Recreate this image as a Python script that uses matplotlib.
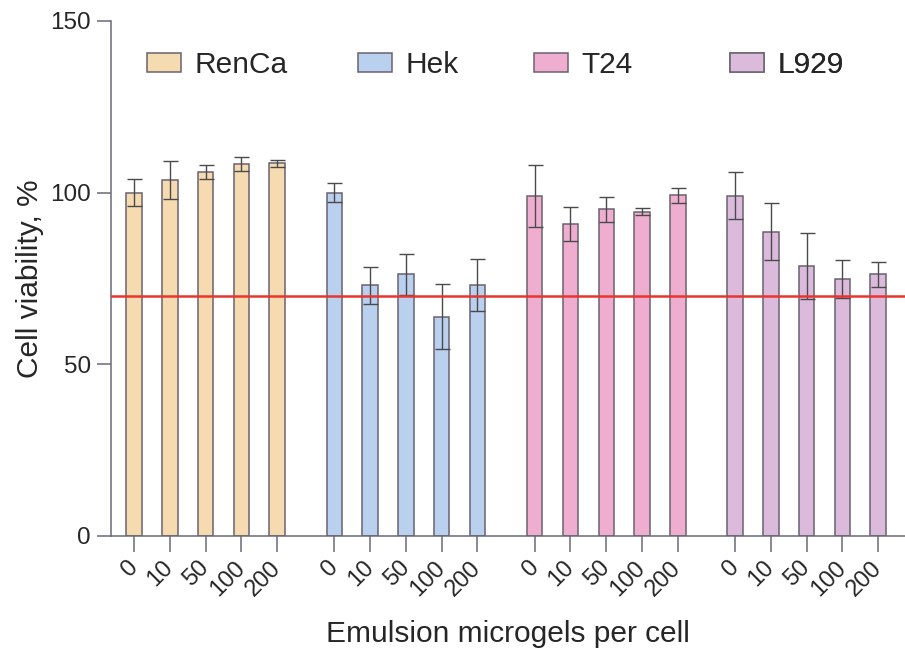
import numpy as np
import matplotlib
matplotlib.use("Agg")
import matplotlib.pyplot as plt
from matplotlib.patches import Patch

plt.rcParams['font.family'] = ['Liberation Sans', 'DejaVu Sans']

cell_lines = ["RenCa", "Hek", "T24", "L929"]
doses = ["0", "10", "50", "100", "200"]

# mean viability, % and sd for each dose
renca = [100.0, 103.6, 106.0, 108.4, 108.5]
renca_sd = [4.0, 5.6, 2.0, 2.1, 1.0]
hek = [100.0, 73.0, 76.2, 63.9, 73.0]
hek_sd = [2.8, 5.3, 5.9, 9.5, 7.6]
t24 = [99.0, 90.8, 95.1, 94.5, 99.2]
t24_sd = [9.0, 5.0, 3.7, 1.1, 2.1]
l929 = [99.1, 88.6, 78.6, 74.8, 76.2]
l929_sd = [6.8, 8.3, 9.6, 5.6, 3.7]

threshold = 70

colors = ["#f7dbb0", "#b9d0ee", "#efaed0", "#dbbadb"]
means = [renca, hek, t24, l929]
sds = [renca_sd, hek_sd, t24_sd, l929_sd]

fig = plt.figure(figsize=(9.05, 6.51), dpi=100)
ax = fig.add_axes([0.1232, 0.1767, 0.8768, 0.7911])

group_step = 5.6
xticks = []
xlabels = []
for g, (m, s, c) in enumerate(zip(means, sds, colors)):
    x = g * group_step + np.arange(len(doses))
    ax.bar(x, m, width=0.43, color=c, edgecolor="#6a6270", linewidth=1.1, zorder=2)
    ax.errorbar(x, m, yerr=s, fmt="none", ecolor="#4a4a4a", elinewidth=1.0,
                capsize=5.4, capthick=1.0, zorder=3)
    xticks.extend(x)
    xlabels.extend(doses)

ax.axhline(threshold, color="#e8362c", linewidth=1.8, zorder=4)

ax.set_xlim(-0.63, 21.55)
ax.set_ylim(0, 150)
ax.set_yticks([0, 50, 100, 150])
ax.set_xticks(xticks)
ax.set_xticklabels(xlabels, rotation=45, ha="right", va="center",
                   rotation_mode="anchor", fontsize=17, color="#262626")
ax.tick_params(axis="y", labelsize=17.5, length=10, width=1.1, color="#6a6a78",
               pad=5, labelcolor="#262626")
ax.tick_params(axis="x", length=11.5, width=1.1, color="#6a6a78", pad=9)
for side in ["top", "right"]:
    ax.spines[side].set_visible(False)
for side in ["left", "bottom"]:
    ax.spines[side].set_color("#6a6a78")
    ax.spines[side].set_linewidth(1.1)

ax.set_ylabel("Cell viability, %", fontsize=21.5, labelpad=4, color="#262626")
ax.set_xlabel("Emulsion microgels per cell", fontsize=21.5, labelpad=14,
              color="#262626")

# one legend entry per cell line, spread along the top
legend_x = [0.0447, 0.3106, 0.5325, 0.7795]
for name, c, lx in zip(cell_lines, colors, legend_x):
    h = Patch(facecolor=c, edgecolor="#6a6270", linewidth=1.1)
    leg = ax.legend(handles=[h], labels=[name], loc="center left",
                    bbox_to_anchor=(lx, 0.9146), frameon=False, fontsize=21.5,
                    borderpad=0, borderaxespad=0, handlelength=1.15,
                    handleheight=0.6, handletextpad=0.45)
    for t in leg.get_texts():
        t.set_color("#262626")
    ax.add_artist(leg)

fig.savefig("out.png", dpi=100)
